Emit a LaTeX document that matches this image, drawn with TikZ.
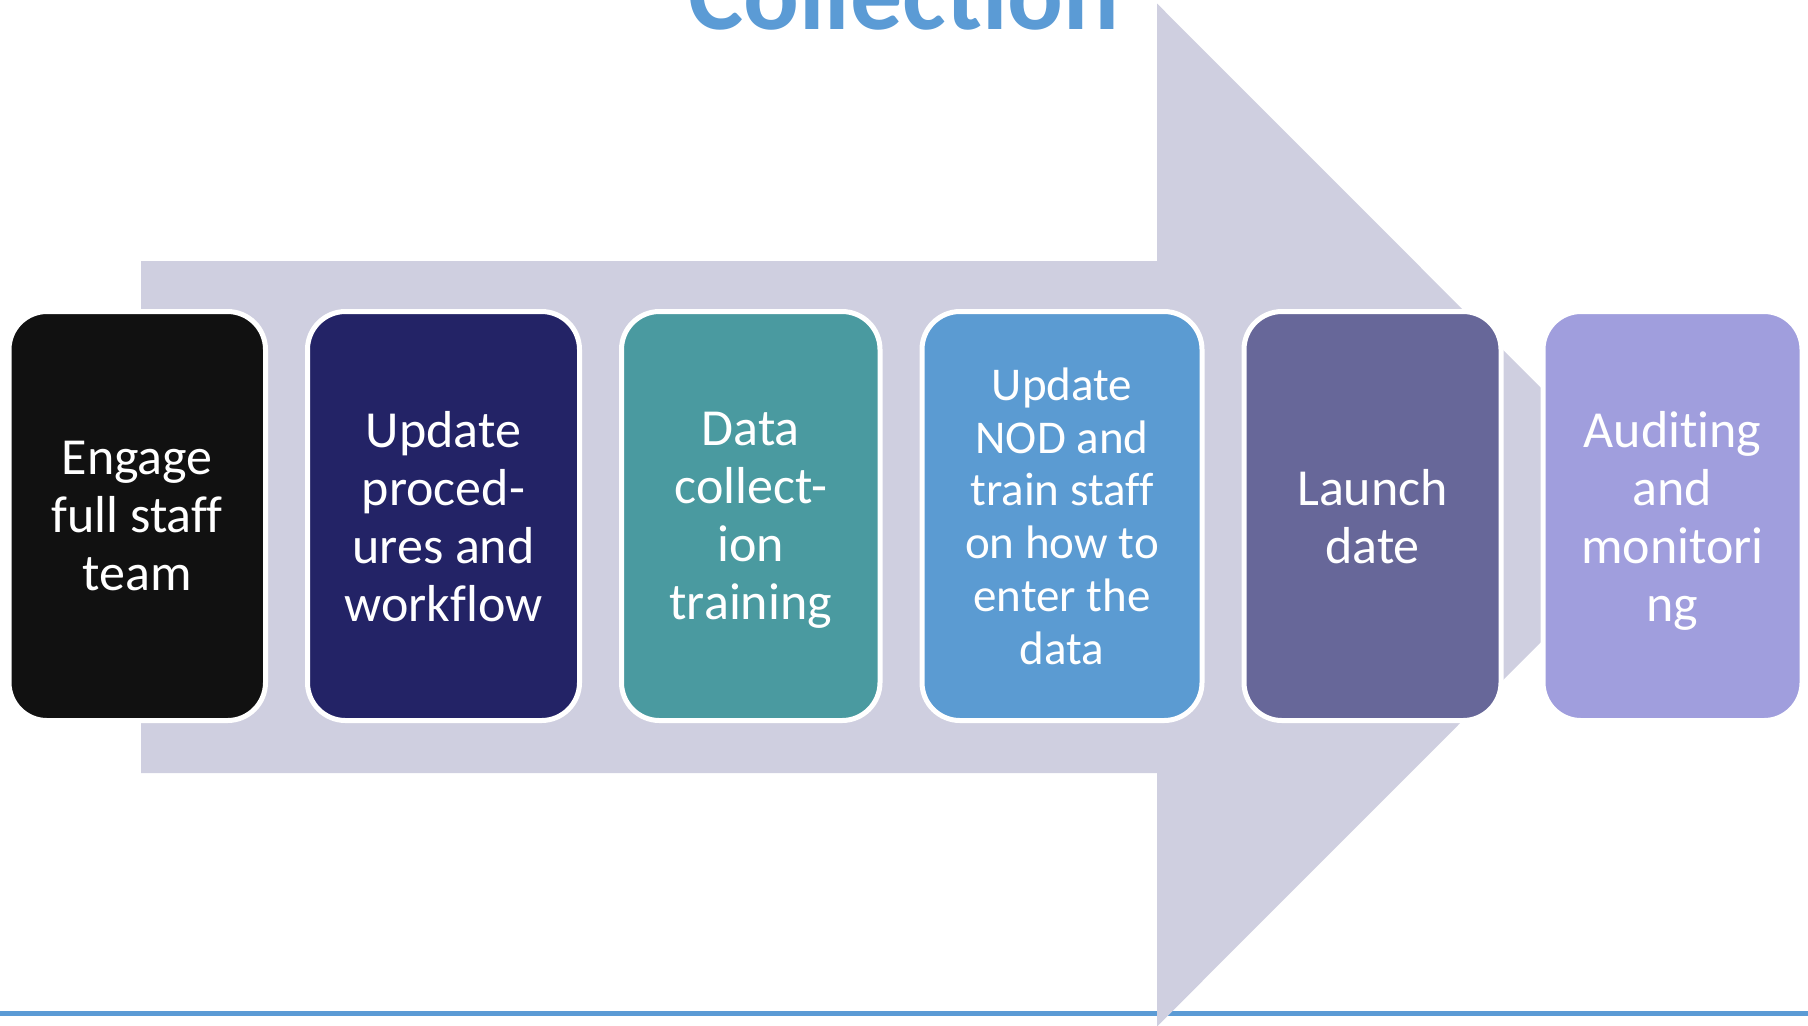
\documentclass[tikz,border=0pt]{standalone}
\usepackage{fontspec}
\setmainfont{Carlito}[Ligatures={NoCommon,NoRequired,NoContextual}]
\usepackage{xcolor}
\definecolor{arrowgray}{HTML}{CFCFE0}
\definecolor{titleblue}{HTML}{5B9BD5}
\definecolor{stepblack}{HTML}{111111}
\definecolor{stepnavy}{HTML}{232366}
\definecolor{stepteal}{HTML}{4A9AA0}
\definecolor{stepblue}{HTML}{5B9BD2}
\definecolor{stepslate}{HTML}{676799}
\definecolor{steplilac}{HTML}{A09EDD}
\usepackage{tikz}
\usetikzlibrary{positioning}

\begin{document}
\begin{tikzpicture}[
      x=0.5pt, y=-0.5pt,
      node distance=18.5pt,
      every node/.style={font=\fontsize{26pt}{29pt}\selectfont},
      stepbox/.style={
        draw=white, fill=#1, line width=2.5pt, rounded corners=19pt,
        text=white, align=center, inner sep=0pt, text depth=0pt,
        minimum height=204.5pt
      },
    ]
      \useasboundingbox (0,0) rectangle (1808,1025);
      \draw[titleblue, line width=2.5pt] (0,1013.5) -- (1808,1013.5);
      % big arrow behind the steps
      \fill[arrowgray] (141,261) -- (1157,261) -- (1157,3.5) -- (1668,515)
        -- (1157,1026.5) -- (1157,773) -- (141,773) -- cycle;
      \node[font=\bfseries\fontsize{52pt}{60pt}\selectfont, text=titleblue, anchor=base] (title) at (904,29) {Collection};
      \node[stepbox=stepblack, minimum width=128.25pt] (engage) at (137.25,516) {Engage\\full staff\\team};
      \node[stepbox=stepnavy, minimum width=136pt, right=of engage] (procedures) {Update\\proced-\\ures and\\workflow};
      \node[stepbox=stepteal, minimum width=129.25pt, right=of procedures] (training) {Data\\collect-\\ion\\training};
      \node[stepbox=stepblue, minimum width=140pt, right=of training,
        font=\fontsize{23.5pt}{26.4pt}\selectfont] (nod) {Update\\NOD and\\train staff\\on how to\\enter the\\data};
      \node[stepbox=stepslate, minimum width=128.5pt, right=of nod] (launch) {Launch\\date};
      \node[stepbox=steplilac, minimum width=129.5pt, right=of launch] (audit) {Auditing\\and\\monitori\\ng};
    \end{tikzpicture}
\end{document}
